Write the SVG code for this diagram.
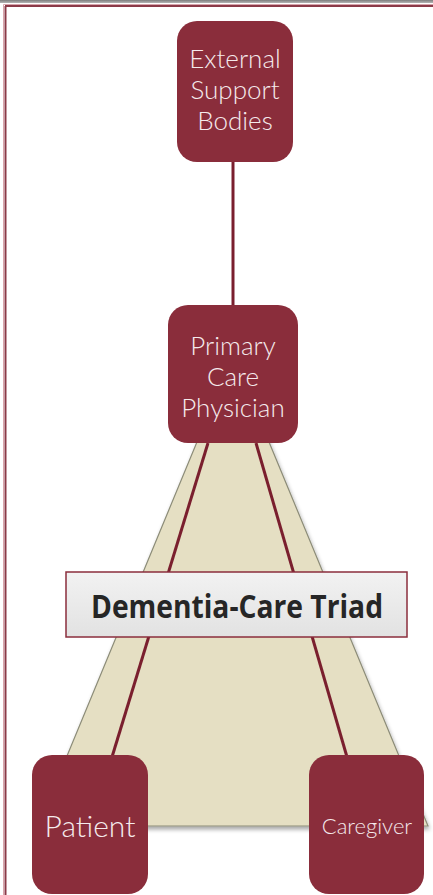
<svg xmlns="http://www.w3.org/2000/svg" width="433" height="895" viewBox="0 0 433 895">
  <style>
    .node rect.box { fill: #8a2d3b; }
    .ntext { font-family: "Lato", "Open Sans", "Liberation Sans", sans-serif; fill: #f5eaec; text-anchor: middle; font-weight: 300; }
    .conn { stroke: #7a1f2e; stroke-width: 3; fill: none; }
    .label { font-family: "Open Sans", "Liberation Sans", sans-serif; font-weight: bold; fill: #262626; text-anchor: middle; }
  </style>
  <defs>
    <linearGradient id="lblGrad" x1="0" y1="0" x2="0" y2="1">
      <stop offset="0" stop-color="#f2f2f2"/>
      <stop offset="1" stop-color="#e2e2e2"/>
    </linearGradient>
    <linearGradient id="topGrad" x1="0" y1="0" x2="0" y2="1">
      <stop offset="0" stop-color="#7d7d7d"/>
      <stop offset="1" stop-color="#b5b5b5"/>
    </linearGradient>
    <filter id="shadow" x="-10%" y="-10%" width="120%" height="120%">
      <feGaussianBlur in="SourceAlpha" stdDeviation="2"/>
      <feOffset dx="1" dy="3" result="b"/>
      <feComponentTransfer><feFuncA type="linear" slope="0.35"/></feComponentTransfer>
      <feMerge><feMergeNode/><feMergeNode in="SourceGraphic"/></feMerge>
    </filter>
  </defs>

  <rect x="0" y="0" width="433" height="895" fill="#ffffff"/>

  <!-- frame -->
  <g id="frame">
    <rect x="0" y="0" width="433" height="3" fill="url(#topGrad)"/>
    <line x1="3.5" y1="4.5" x2="433" y2="4.5" stroke="#d9a5ad" stroke-width="1"/>
    <line x1="5" y1="6" x2="433" y2="6" stroke="#8b3a48" stroke-width="2"/>
    <line x1="3.5" y1="4.5" x2="3.5" y2="895" stroke="#d9a5ad" stroke-width="1"/>
    <line x1="5.5" y1="6" x2="5.5" y2="895" stroke="#8b3a48" stroke-width="2"/>
  </g>

  <!-- triad background -->
  <g id="triad">
    <polygon points="233,355 38,826 428,826" fill="#e5dfc3" stroke="#8c8c78" stroke-width="1.2" filter="url(#shadow)"/>
  </g>

  <!-- connectors -->
  <g id="connectors">
    <line class="conn" x1="233" y1="162" x2="233" y2="305"/>
    <line class="conn" x1="208" y1="443" x2="112" y2="757"/>
    <line class="conn" x1="256" y1="443" x2="347" y2="757"/>
  </g>

  <g id="label-triad">
    <rect x="66" y="572" width="341" height="65" fill="url(#lblGrad)" stroke="#8b2e3c" stroke-width="1.5"/>
    <text class="label" x="237" y="618" font-size="33" textLength="292" lengthAdjust="spacingAndGlyphs">Dementia-Care Triad</text>
  </g>

  <g id="node-external" class="node">
    <rect class="box" x="177" y="21" width="116" height="141" rx="20"/>
    <text class="ntext" x="235" y="68" font-size="26">External</text>
    <text class="ntext" x="235" y="99" font-size="26">Support</text>
    <text class="ntext" x="235" y="130" font-size="26">Bodies</text>
  </g>

  <g id="node-pcp" class="node">
    <rect class="box" x="168" y="305" width="130" height="138" rx="20"/>
    <text class="ntext" x="233" y="355" font-size="26">Primary</text>
    <text class="ntext" x="233" y="386" font-size="26">Care</text>
    <text class="ntext" x="233" y="417" font-size="26">Physician</text>
  </g>

  <g id="node-patient" class="node">
    <rect class="box" x="32" y="755" width="116" height="139" rx="20"/>
    <text class="ntext" x="90" y="837" font-size="30">Patient</text>
  </g>

  <g id="node-caregiver" class="node">
    <rect class="box" x="309" y="755" width="115" height="139" rx="20"/>
    <text class="ntext" x="367" y="834" font-size="22">Caregiver</text>
  </g>
</svg>
